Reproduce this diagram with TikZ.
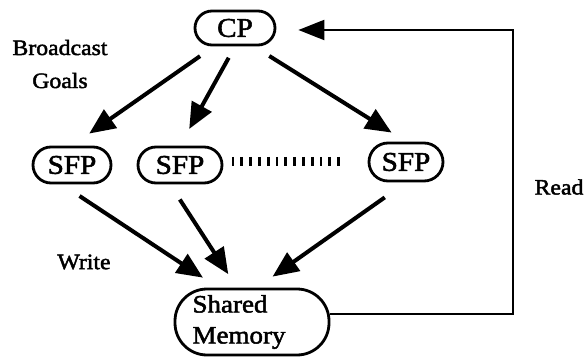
\documentclass[tikz,border=0pt]{standalone}
\usepackage{fontspec}
\setmainfont[FakeStretch=1.08,FakeBold=2]{Liberation Serif}
\usetikzlibrary{positioning,calc,arrows.meta,shapes.misc}

\begin{document}
\begin{tikzpicture}[x=1pt,y=-1pt,font=\fontsize{22}{26}\selectfont,
   pill/.style={rounded rectangle,draw,line width=2.8pt,inner sep=0pt,font=\fontsize{27}{30}\selectfont},
   ar/.style={line width=4pt,-{Triangle[length=26pt,width=22pt]}},
   rd/.style={line width=2.2pt,-{Triangle[length=26pt,width=20pt]}}]
\useasboundingbox (0,0) rectangle (586,358);
%% ---- processes ----
\node[pill,minimum width=80pt,minimum height=34pt] (CP) at (235,28) {CP};
\node[pill,minimum width=78pt,minimum height=36pt] (SFP1) at (72,165) {SFP};
\node[pill,minimum width=84pt,minimum height=36pt] (SFP2) at (180,165) {SFP};
\node[pill,minimum width=74pt,minimum height=38pt] (SFP3) at (406,162) {SFP};
\node[rounded corners=32pt,draw,line width=2.8pt,minimum width=154pt,minimum height=66pt,
      align=left,inner sep=0pt,font=\fontsize{25}{31}\selectfont] (SM) at (252,322)
      {\hspace*{-26pt}Shared\\\hspace*{-26pt}Memory};
% row of ticks between the SFPs
\foreach \i in {0,...,12}
  \draw[line width=2.8pt] (233+\i*8.8,157) -- (233+\i*8.8,166);
%% ---- labels ----
\node[align=center,font=\fontsize{22}{33}\selectfont] (bg) at (60,64) {Broadcast\\Goals};
\node (wr) at (84,262) {Write};
\node (rdl) at (559,187) {Read};
%% ---- broadcast ----
\draw[ar,shorten <=17pt,shorten >=21pt] ([xshift=-21pt]CP.south) -- (SFP1.north);
\draw[ar,shorten <=13pt,shorten >=19pt] (CP.south) -- (SFP2.north);
\draw[ar,shorten <=18pt,shorten >=17pt] ([xshift=19pt]CP.south) -- (SFP3.north);
%% ---- write ----
\draw[ar,shorten <=21pt,shorten >=18pt] ([xshift=-10pt]SFP1.south) -- ([xshift=-34pt]SM.north);
\draw[ar,shorten <=18pt,shorten >=16pt] ([xshift=-10pt]SFP2.south) -- ([xshift=-15pt]SM.north);
\draw[ar,shorten <=26pt,shorten >=19pt] (SFP3.south) -- ([xshift=5pt]SM.north);
%% ---- read ----
\coordinate (rc) at (513,30);
\draw[rd,shorten >=22pt] ([yshift=8pt]SM.east) -| (rc) -- (CP.east |- rc);
\end{tikzpicture}
\end{document}
